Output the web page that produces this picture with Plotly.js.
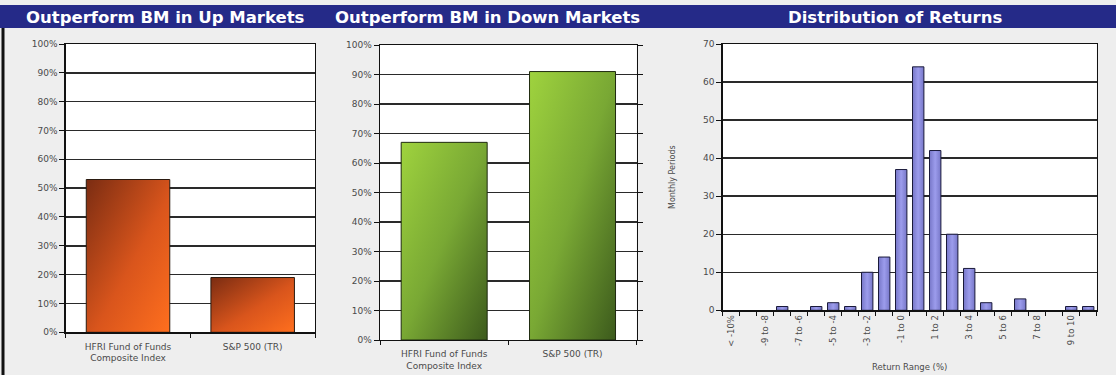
<!DOCTYPE html>
<html>
<head>
<meta charset="utf-8">
<script src="https://cdn.plot.ly/plotly-3.0.1.min.js"></script>
<style>
html,body{margin:0;padding:0;background:#eeeeee;}
#chart{width:1116px;height:375px;}
</style>
</head>
<body>
<div id="chart"></div>
<script>
// ---- data ----
const barCategories = ["HFRI Fund of Funds<br>Composite Index", "S&P 500 (TR)"];
const upMarketValues = [53, 19];
const downMarketValues = [67, 91];

const returnRanges = ["< -10%", "-10 to -9", "-9 to -8", "-8 to -7", "-7 to -6", "-6 to -5",
  "-5 to -4", "-4 to -3", "-3 to -2", "-2 to -1", "-1 to 0", "0 to 1", "1 to 2", "2 to 3",
  "3 to 4", "4 to 5", "5 to 6", "6 to 7", "7 to 8", "8 to 9", "9 to 10", "> 10%"];
const monthlyPeriods = [0, 0, 0, 1, 0, 1, 2, 1, 10, 14, 37, 64, 42, 20, 11, 2, 0, 3, 0, 0, 1, 1];
const returnTickLabels = ["< -10%", "", "-9 to -8", "", "-7 to -6", "", "-5 to -4", "", "-3 to -2", "",
  "-1 to 0", "", "1 to 2", "", "3 to 4", "", "5 to 6", "", "7 to 8", "", "9 to 10", ""];

const panelTitles = ["Outperform BM in Up Markets", "Outperform BM in Down Markets", "Distribution of Returns"];
const pctTicks = [0, 10, 20, 30, 40, 50, 60, 70, 80, 90, 100];
const pctTickLabels = ["0%", "10%", "20%", "30%", "40%", "50%", "60%", "70%", "80%", "90%", "100%"];
const countTicks = [0, 10, 20, 30, 40, 50, 60, 70];

// ---- styling ----
const W = 1116, H = 375;
const px = v => v / W;
const py = v => (H - v) / H;
const FAMILY = "DejaVu Sans, Verdana, sans-serif";
const tickFont = {family: FAMILY, size: 9, color: "#4a4a4a"};
const gridColor = "#2a2a2a";

function pctAxis(domain, mirror) {
  return {
    domain: domain, range: [0, 100], tickmode: "array", tickvals: pctTicks, ticktext: pctTickLabels,
    showgrid: true, gridcolor: gridColor, gridwidth: 1.4,
    showline: true, linecolor: "#111", linewidth: 1.4, mirror: mirror,
    ticks: "outside", ticklen: 5, tickcolor: "#111",
    tickfont: tickFont, zeroline: false, fixedrange: true
  };
}
function catAxis(domain) {
  return {
    domain: domain, type: "category", tickson: "boundaries",
    showline: true, linecolor: "#111", linewidth: 1.4, mirror: true,
    ticks: "outside", ticklen: 4, tickcolor: "#111",
    tickfont: tickFont, showgrid: false, fixedrange: true
  };
}

const traces = [
  {type: "bar", x: barCategories, y: upMarketValues, xaxis: "x", yaxis: "y",
   marker: {color: "#c9501c", line: {color: "#2a1a10", width: 1}}, hoverinfo: "x+y"},
  {type: "bar", x: barCategories, y: downMarketValues, xaxis: "x2", yaxis: "y2",
   marker: {color: "#6f9a2e", line: {color: "#1f2a10", width: 1}}, hoverinfo: "x+y"},
  {type: "bar", x: returnRanges, y: monthlyPeriods, xaxis: "x3", yaxis: "y3",
   marker: {color: "#8c8cdc", line: {color: "#1a1a3a", width: monthlyPeriods.map(v => v > 0 ? 1 : 0)}},
   hoverinfo: "x+y"}
];

const distX = Object.assign(catAxis([px(722.7), px(1096.7)]), {
  tickmode: "array", tickvals: returnRanges, ticktext: returnTickLabels, tickangle: -90,
  tickfont: {family: FAMILY, size: 8.5, color: "#4a4a4a"},
  title: {text: "Return Range (%)", font: {family: FAMILY, size: 8.5, color: "#4a4a4a"}, standoff: 18}
});
const distY = {
  domain: [py(310.3), py(44)], range: [0, 70], tickmode: "array", tickvals: countTicks,
  showgrid: true, gridcolor: gridColor, gridwidth: 1.4,
  showline: true, linecolor: "#111", linewidth: 1.4, mirror: true,
  ticks: "outside", ticklen: 5, tickcolor: "#111", tickfont: tickFont, zeroline: false,
  title: {text: "Monthly Periods", font: {family: FAMILY, size: 8, color: "#4a4a4a"}, standoff: 26},
  fixedrange: true
};

const titleFont = {family: FAMILY, size: 16.5, color: "#ffffff"};

function titleAnn(text, xc) {
  return {text: "<b>" + text + "</b>", xref: "paper", yref: "paper", x: px(xc), y: py(17),
          xanchor: "center", yanchor: "middle", showarrow: false, font: titleFont};
}

const layout = {
  width: W, height: H,
  margin: {l: 0, r: 0, t: 0, b: 0},
  paper_bgcolor: "#eeeeee", plot_bgcolor: "#ffffff",
  showlegend: false, bargap: 0.33,
  xaxis: Object.assign(catAxis([px(65.7), px(315)]), {anchor: "y", ticklabelstandoff: 5}),
  yaxis: Object.assign(pctAxis([py(332.3), py(44)], true), {anchor: "x"}),
  xaxis2: Object.assign(catAxis([px(380), px(636.7)]), {anchor: "y2", ticklabelstandoff: 5}),
  yaxis2: Object.assign(pctAxis([py(340), py(45)], "ticks"), {anchor: "x2"}),
  xaxis3: Object.assign(distX, {anchor: "y3"}),
  yaxis3: Object.assign(distY, {anchor: "x3"}),
  shapes: [
    {type: "rect", xref: "paper", yref: "paper", x0: 0, x1: 1, y0: py(28), y1: py(5),
     fillcolor: "#252a88", line: {width: 0}, layer: "below"},
    {type: "line", xref: "paper", yref: "paper", x0: px(3), x1: px(3), y0: 0, y1: py(28),
     line: {color: "#111", width: 3}}
  ],
  annotations: [
    titleAnn(panelTitles[0], 165),
    titleAnn(panelTitles[1], 487),
    titleAnn(panelTitles[2], 895)
  ]
};

Plotly.newPlot("chart", traces, layout, {displayModeBar: false, staticPlot: true}).then(function (gd) {
  // gradient fills like the original Excel bars
  const svg = gd.querySelector("svg.main-svg");
  const ns = "http://www.w3.org/2000/svg";
  let defs = svg.querySelector("defs");
  if (!defs) { defs = document.createElementNS(ns, "defs"); svg.insertBefore(defs, svg.firstChild); }
  function grad(id, x2, y2, stops) {
    const g = document.createElementNS(ns, "linearGradient");
    g.setAttribute("id", id);
    g.setAttribute("x1", "0"); g.setAttribute("y1", "0");
    g.setAttribute("x2", x2); g.setAttribute("y2", y2);
    stops.forEach(function (s) {
      const st = document.createElementNS(ns, "stop");
      st.setAttribute("offset", s[0]); st.setAttribute("stop-color", s[1]);
      g.appendChild(st);
    });
    defs.appendChild(g);
  }
  grad("gOrange", "1", "1", [["0", "#7a2c12"], ["0.55", "#d9551c"], ["1", "#ff6f1e"]]);
  grad("gGreen", "1", "1", [["0", "#9fd33e"], ["0.5", "#79a834"], ["1", "#3c5a1c"]]);
  grad("gBlue", "1", "0", [["0", "#7777c8"], ["0.5", "#9c9cec"], ["1", "#7777c8"]]);
  const map = {xy: "gOrange", x2y2: "gGreen", x3y3: "gBlue"};
  Object.keys(map).forEach(function (k) {
    gd.querySelectorAll(".subplot." + k + " .trace.bars path").forEach(function (p) {
      p.style.fill = "url(#" + map[k] + ")";
    });
  });
});
</script>
</body>
</html>
